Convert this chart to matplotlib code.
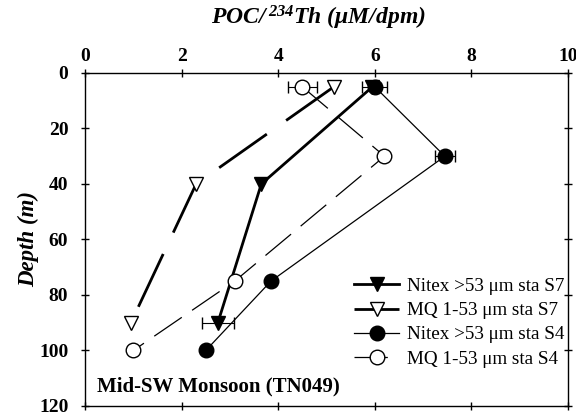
import matplotlib
matplotlib.use("Agg")
import matplotlib.pyplot as plt
from matplotlib.lines import Line2D

plt.rcParams["font.family"] = "Liberation Serif"
plt.rcParams["mathtext.fontset"] = "custom"
plt.rcParams["mathtext.rm"] = "Liberation Serif:bold:italic"
plt.rcParams["mathtext.it"] = "Liberation Serif:bold:italic"
plt.rcParams["lines.scale_dashes"] = False

# ---------------------------------------------------------------------------
# Data: POC/234Th ratio vs depth, two stations, two size classes
# ---------------------------------------------------------------------------
nitex_s7_x = [5.95, 3.65, 2.75]
nitex_s7_depth = [5, 40, 90]
nitex_s7_err = [0.0, 0.0, 0.33]

mq_s7_x = [5.15, 2.3, 0.95]
mq_s7_depth = [5, 40, 90]
mq_s7_err = [0.0, 0.0, 0.0]

nitex_s4_x = [6.0, 7.45, 3.85, 2.5]
nitex_s4_depth = [5, 30, 75, 100]
nitex_s4_err = [0.26, 0.2, 0.0, 0.0]

mq_s4_x = [4.5, 6.2, 3.1, 1.0]
mq_s4_depth = [5, 30, 75, 100]
mq_s4_err = [0.3, 0.0, 0.0, 0.0]

labels = ["Nitex >53 \u03bcm sta S7", "MQ 1-53 \u03bcm sta S7",
          "Nitex >53 \u03bcm sta S4", "MQ 1-53 \u03bcm sta S4"]

# style per series: marker, face, linewidth, linestyle
styles = [
    ("v", "black", 2.0, "-"),
    ("v", "white", 2.0, (0, (42, 17))),
    ("o", "black", 0.9, "-"),
    ("o", "white", 0.9, (0, (24, 9))),
]
series = [
    (nitex_s7_x, nitex_s7_depth, nitex_s7_err),
    (mq_s7_x, mq_s7_depth, mq_s7_err),
    (nitex_s4_x, nitex_s4_depth, nitex_s4_err),
    (mq_s4_x, mq_s4_depth, mq_s4_err),
]

fig = plt.figure(figsize=(5.76, 4.17), dpi=100)
ax = fig.add_axes([0.1476, 0.0264, 0.8386, 0.7986])

handles = []
for (x, d, e), (mk, fc, lw, ls) in zip(series, styles):
    ax.errorbar(x, d, xerr=e, marker=mk, mfc=fc, lw=lw, ls=ls, ms=10.5,
                mec="black", mew=1.0, capsize=4, elinewidth=0.8,
                capthick=0.8, ecolor="black", color="black")
    handles.append(Line2D([], [], marker=mk, mfc=fc, lw=lw, ls=ls, ms=10.5,
                          mec="black", mew=1.0, color="black"))

ax.set_xlim(0, 10)
ax.set_ylim(120, 0)
ax.set_xticks(range(0, 11, 2))
ax.set_yticks(range(0, 121, 20))
ax.xaxis.tick_top()
ax.tick_params(axis="both", direction="inout", length=6, width=1,
               labelsize=14, top=True, bottom=True, left=True, right=True,
               labelbottom=False, labeltop=True)
ax.tick_params(axis="x", pad=3)
ax.tick_params(axis="y", pad=9)
for lab in ax.get_xticklabels() + ax.get_yticklabels():
    lab.set_fontweight("bold")
for s in ax.spines.values():
    s.set_linewidth(1.0)

ax.set_ylabel("Depth (m)", fontsize=16.5, fontweight="bold", style="italic",
              labelpad=0)
fig.text(0.552, 0.957, r"POC/$\,^{234}$Th ($\mathrm{\mu}$M/dpm)",
         fontsize=17, fontweight="bold", style="italic",
         ha="center", va="center")

ax.text(0.25, 113, "Mid-SW Monsoon (TN049)", fontsize=15, fontweight="bold",
        va="center", ha="left")

ax.legend(handles, labels, loc="upper left",
          bbox_to_anchor=(0.557, 0.385), frameon=False, fontsize=13.8,
          handlelength=2.35, handletextpad=0.42, labelspacing=0.35,
          borderpad=0, borderaxespad=0)

fig.savefig("out.png", dpi=100)
